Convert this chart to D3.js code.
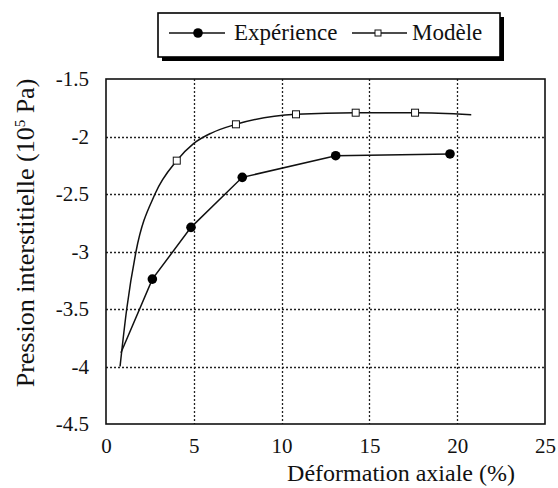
<!DOCTYPE html>
<html><head><meta charset="utf-8">
<script src="https://cdn.jsdelivr.net/npm/d3@7"></script>
<style>body{margin:0;background:#fff}svg{display:block}text{font-family:"Liberation Serif","Times New Roman",serif;fill:#111}</style>
</head><body>
<script>
// Data
const expX = [0.85, 2.64, 4.84, 7.76, 13.08, 19.59];
const expY = [-3.88, -3.24, -2.79, -2.355, -2.167, -2.152];
const expMarked = [false, true, true, true, true, true];
const modelCurveX = [0.8, 1.18, 1.71, 2.79, 4.03, 5.0, 6.0, 7.4, 10.82, 14.22, 17.6, 20.8];
const modelCurveY = [-4.0, -3.5, -3.0, -2.5, -2.21, -2.06, -1.97, -1.894, -1.807, -1.793, -1.793, -1.81];
const modelMarkX = [4.03, 7.4, 10.82, 14.22, 17.6];
const modelMarkY = [-2.21, -1.894, -1.807, -1.793, -1.793];
const xTicks = [0, 5, 10, 15, 20, 25];
const yTicks = [-4.5, -4, -3.5, -3, -2.5, -2, -1.5];
const seriesNames = ["Expérience", "Modèle"];

const W = 558, H = 488;
const FONT = '"Liberation Serif","Times New Roman",serif';
const svg = d3.select("body").append("svg").attr("width", W).attr("height", H);
const x = d3.scaleLinear().domain([0, 25]).range([106, 545]);
const y = d3.scaleLinear().domain([-4.5, -1.5]).range([424, 79]);

// gridlines
const g = svg.append("g").attr("class", "grid");
g.selectAll("line.vg").data(xTicks.filter(d => d > 0 && d < 25)).join("line").attr("class", "vg")
  .attr("x1", d => Math.round(x(d)) + 0.5).attr("x2", d => Math.round(x(d)) + 0.5).attr("y1", y(-1.5)).attr("y2", y(-4.5))
  .style("stroke", "#222").style("stroke-width", 1.3).style("stroke-dasharray", "2,2");
g.selectAll("line.hg").data(yTicks.filter(d => d > -4.5 && d < -1.5)).join("line").attr("class", "hg")
  .attr("y1", d => Math.round(y(d)) + 0.5).attr("y2", d => Math.round(y(d)) + 0.5).attr("x1", x(0)).attr("x2", x(25))
  .style("stroke", "#222").style("stroke-width", 1.3).style("stroke-dasharray", "2,2");

// frame
svg.append("rect").attr("x", x(0)).attr("y", y(-1.5)).attr("width", x(25) - x(0)).attr("height", y(-4.5) - y(-1.5))
  .attr("fill", "none").attr("stroke", "#111").attr("stroke-width", 1.6);

// axes (labels only)
const xAxis = d3.axisBottom(x).tickValues(xTicks).tickSize(0).tickPadding(10).tickFormat(d => String(d));
const xa = svg.append("g").attr("transform", `translate(0,${y(-4.5) + 4})`).call(xAxis);
xa.select(".domain").remove();
xa.selectAll("text").style("font-size", "21px").style("font-family", FONT).style("fill", "#111");
const yAxis = d3.axisLeft(y).tickValues(yTicks).tickSize(0).tickPadding(17).tickFormat(d => String(d));
const ya = svg.append("g").attr("transform", `translate(${x(0)},0)`).call(yAxis);
ya.select(".domain").remove();
ya.selectAll("text").style("font-size", "21px").style("font-family", FONT).style("fill", "#111");

// titles
svg.append("text").attr("x", 515).attr("y", 481).attr("text-anchor", "end").style("font-size", "24px").text("Déformation axiale (%)");
const yt = svg.append("text").attr("transform", "translate(34,233) rotate(-90)").attr("text-anchor", "middle").style("font-size", "26px");
yt.append("tspan").text("Pression interstitielle (10");
yt.append("tspan").style("font-size", "15px").attr("dy", -9).text("5");
yt.append("tspan").attr("dy", 9).text(" Pa)");

// series
const expData = expX.map((v, i) => ({x: v, y: expY[i], m: expMarked[i]}));
const modelData = modelCurveX.map((v, i) => ({x: v, y: modelCurveY[i]}));
const modelMarks = modelMarkX.map((v, i) => ({x: v, y: modelMarkY[i]}));

svg.append("path").datum(modelData)
  .attr("d", d3.line().x(d => x(d.x)).y(d => y(d.y)).curve(d3.curveMonotoneX))
  .attr("fill", "none").attr("stroke", "#111").attr("stroke-width", 1.5);
svg.append("path").datum(expData)
  .attr("d", d3.line().x(d => x(d.x)).y(d => y(d.y)))
  .attr("fill", "none").attr("stroke", "#111").attr("stroke-width", 1.5);
svg.selectAll("circle.ec").data(expData.filter(d => d.m)).join("circle").attr("class", "ec")
  .attr("cx", d => x(d.x)).attr("cy", d => y(d.y)).attr("r", 4.8).attr("fill", "#000");
svg.selectAll("rect.ms").data(modelMarks).join("rect").attr("class", "ms")
  .attr("x", d => x(d.x) - 3.5).attr("y", d => y(d.y) - 3.5).attr("width", 7).attr("height", 7)
  .attr("fill", "#fff").attr("stroke", "#111").attr("stroke-width", 1);

// legend
const lg = svg.append("g");
lg.append("rect").attr("x", 162).attr("y", 17).attr("width", 342).attr("height", 44).attr("fill", "#000");
lg.append("rect").attr("x", 158).attr("y", 13).attr("width", 342).attr("height", 44).attr("fill", "#fff").attr("stroke", "#000").attr("stroke-width", 1.6);
lg.append("line").attr("x1", 169).attr("x2", 225).attr("y1", 33).attr("y2", 33).attr("stroke", "#111").attr("stroke-width", 1.3);
lg.append("circle").attr("cx", 198).attr("cy", 33).attr("r", 4.8).attr("fill", "#000");
lg.append("text").attr("x", 234).attr("y", 40).style("font-size", "23px").text(seriesNames[0]);
lg.append("line").attr("x1", 352).attr("x2", 407).attr("y1", 33).attr("y2", 33).attr("stroke", "#111").attr("stroke-width", 1.3);
lg.append("rect").attr("x", 375).attr("y", 30).attr("width", 6).attr("height", 6).attr("fill", "#fff").attr("stroke", "#111");
lg.append("text").attr("x", 412).attr("y", 40).style("font-size", "23px").text(seriesNames[1]);
</script>
</body></html>
